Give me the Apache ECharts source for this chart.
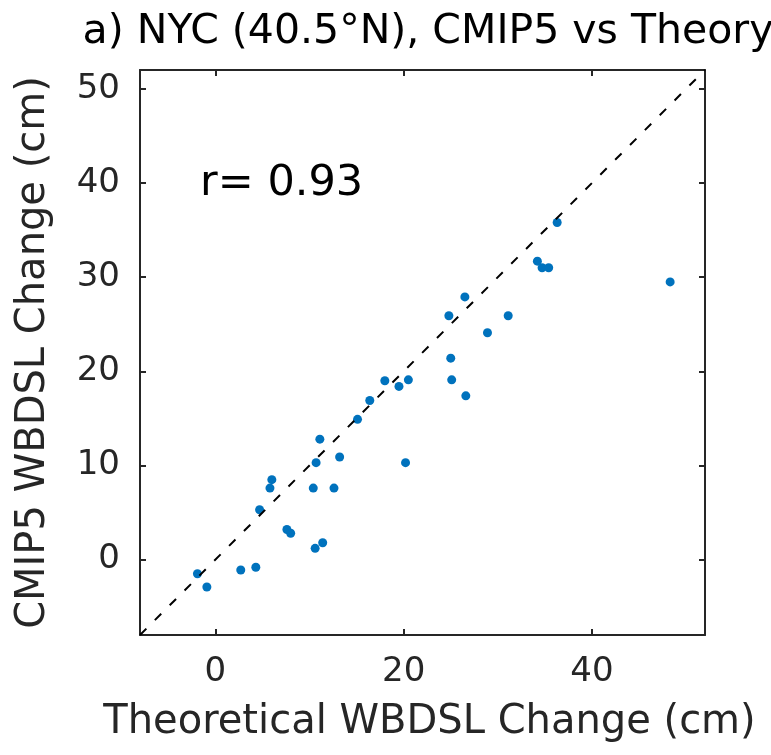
<!DOCTYPE html>
<html>
<head>
<meta charset="utf-8">
<script src="https://cdn.jsdelivr.net/npm/echarts@6/dist/echarts.min.js"></script>
<style>
  html, body { margin: 0; padding: 0; background: #fff; }
  #chart { width: 771px; height: 755px; }
</style>
</head>
<body>
<div id="chart"></div>
<script>
// Theoretical vs CMIP5 WBDSL change at NYC, one point per model (cm)
const theoryChange = [
  -1.9, -0.9, 2.7, 4.3, 7.6, 8.0, 10.6, 11.4, 4.7, 5.8, 6.0, 10.4,
  12.6, 10.7, 11.1, 13.2, 20.2, 15.1, 16.4, 18.0, 19.5, 20.5, 25.0,
  25.1, 26.6, 24.8, 26.5, 28.9, 31.1, 34.2, 34.7, 35.4, 36.3, 48.3
];
const cmipChange = [
  -1.5, -2.9, -1.1, -0.8, 3.2, 2.8, 1.2, 1.8, 5.3, 7.6, 8.5, 7.6,
  7.6, 10.3, 12.8, 10.9, 10.3, 14.9, 16.9, 19.0, 18.4, 19.1, 21.4,
  19.1, 17.4, 25.9, 27.9, 24.1, 25.9, 31.7, 31.0, 31.0, 35.8, 29.5
];
const xTicks = [0, 20, 40];
const yTicks = [0, 10, 20, 30, 40, 50];
const axisRange = [-8, 52];
const oneToOne = [-8, 52];
const correlation = 0.93;

const FONT = 'DejaVu Sans';
const AXIS_COLOR = '#262626';

const points = theoryChange.map((x, i) => [x, cmipChange[i]]);

function boxAxis(ticks, showLabels, extra) {
  return Object.assign({
    type: 'value',
    min: axisRange[0],
    max: axisRange[1],
    splitLine: { show: false },
    axisLine: { show: true, onZero: false, lineStyle: { color: AXIS_COLOR, width: 2 } },
    axisTick: {
      show: true, inside: true, length: 6, customValues: ticks,
      lineStyle: { color: AXIS_COLOR, width: 2 }
    },
    axisLabel: {
      show: showLabels, customValues: ticks,
      fontFamily: FONT, fontSize: 34, color: '#262626'
    }
  }, extra);
}

const chart = echarts.init(document.getElementById('chart'), null, { renderer: 'canvas' });
chart.setOption({
  animation: false,
  backgroundColor: '#fff',
  title: [{
    text: 'a) NYC (40.5°N), CMIP5 vs Theory',
    left: 423, top: 7, textAlign: 'center',
    textStyle: { fontFamily: FONT, fontSize: 41, fontWeight: 'normal', color: '#000' }
  }, {
    text: 'r= ' + correlation.toFixed(2),
    left: 195, top: 157,
    textStyle: { fontFamily: FONT, fontSize: 43, fontWeight: 'normal', color: '#000' }
  }],
  grid: { left: 140, top: 70, width: 565, height: 565 },
  xAxis: [
    boxAxis(xTicks, true, {
      position: 'bottom',
      name: 'Theoretical WBDSL Change (cm)', nameLocation: 'middle', nameGap: 68,
      nameTextStyle: { fontFamily: FONT, fontSize: 40, color: '#262626', padding: [0, 0, 0, 14] },
      axisLabel: { show: true, customValues: xTicks, margin: 20,
        fontFamily: FONT, fontSize: 34, color: '#262626' }
    }),
    boxAxis(xTicks, false, { position: 'top' })
  ],
  yAxis: [
    boxAxis(yTicks, true, {
      position: 'left',
      name: 'CMIP5 WBDSL Change (cm)', nameLocation: 'middle', nameGap: 86,
      nameTextStyle: { fontFamily: FONT, fontSize: 40, color: '#262626' },
      axisLabel: { show: true, customValues: yTicks, margin: 20,
        fontFamily: FONT, fontSize: 34, color: '#262626' }
    }),
    boxAxis(yTicks, false, { position: 'right' })
  ],
  series: [{
    type: 'scatter',
    data: points,
    symbolSize: 9,
    itemStyle: { color: '#0072BD', opacity: 1 },
    z: 2
  }, {
    type: 'line',
    data: [[oneToOne[0], oneToOne[0]], [oneToOne[1], oneToOne[1]]],
    symbol: 'none',
    clip: true,
    lineStyle: { color: '#000', width: 2, type: [9, 12] },
    z: 3
  }]
});
</script>
</body>
</html>
